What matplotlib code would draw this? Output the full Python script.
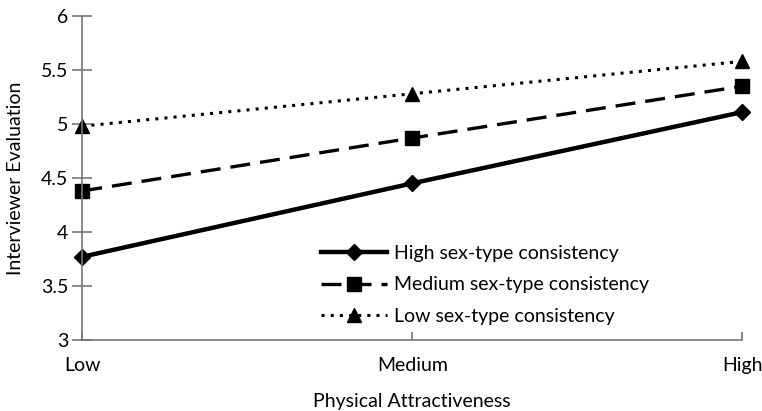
import numpy as np
import matplotlib.pyplot as plt

categories = ["Low", "Medium", "High"]
high_consistency = [3.77, 4.45, 5.11]
medium_consistency = [4.38, 4.87, 5.35]
low_consistency = [4.98, 5.28, 5.58]
y_ticks = [3, 3.5, 4, 4.5, 5, 5.5, 6]

plt.rcParams['font.family'] = ['Lato', 'DejaVu Sans']

fig = plt.figure(figsize=(7.62, 4.11), dpi=100)
ax = fig.add_axes([0.108, 0.173, 0.866, 0.788])

x = np.arange(len(categories))
ax.plot(x, high_consistency, color="black", linewidth=3.2, linestyle="-",
        marker="D", markersize=8, label="High sex-type consistency")
ax.plot(x, medium_consistency, color="black", linewidth=2.4, linestyle=(0, (6, 3)),
        marker="s", markersize=10, label="Medium sex-type consistency")
ax.plot(x, low_consistency, color="black", linewidth=2.2, linestyle=(0, (1, 2)),
        marker="^", markersize=10, label="Low sex-type consistency")

ax.set_xlim(0, 2)
ax.set_ylim(3, 6)
ax.set_xticks(x)
ax.set_xticklabels(categories)
ax.set_yticks(y_ticks)
ax.set_yticklabels([f"{v:g}" for v in y_ticks])

for side in ["top", "right"]:
    ax.spines[side].set_visible(False)
for side in ["left", "bottom"]:
    ax.spines[side].set_color("#777777")
    ax.spines[side].set_linewidth(1.2)
ax.tick_params(axis="y", direction="inout", length=14, width=1.2, color="#777777",
               labelsize=14, pad=3)
ax.tick_params(axis="x", direction="in", length=6, width=1.2, color="#777777",
               labelsize=14, pad=12)
for line in ax.lines:
    line.set_clip_on(False)

ax.set_xlabel("Physical Attractiveness", fontsize=14, labelpad=14)
ax.set_ylabel("Interviewer Evaluation", fontsize=14, labelpad=12)

ax.legend(loc="lower left", bbox_to_anchor=(0.335, -0.008), frameon=False,
          fontsize=14, handlelength=3.4, handletextpad=0.35, labelspacing=0.75)

fig.savefig("out.png", dpi=100)
